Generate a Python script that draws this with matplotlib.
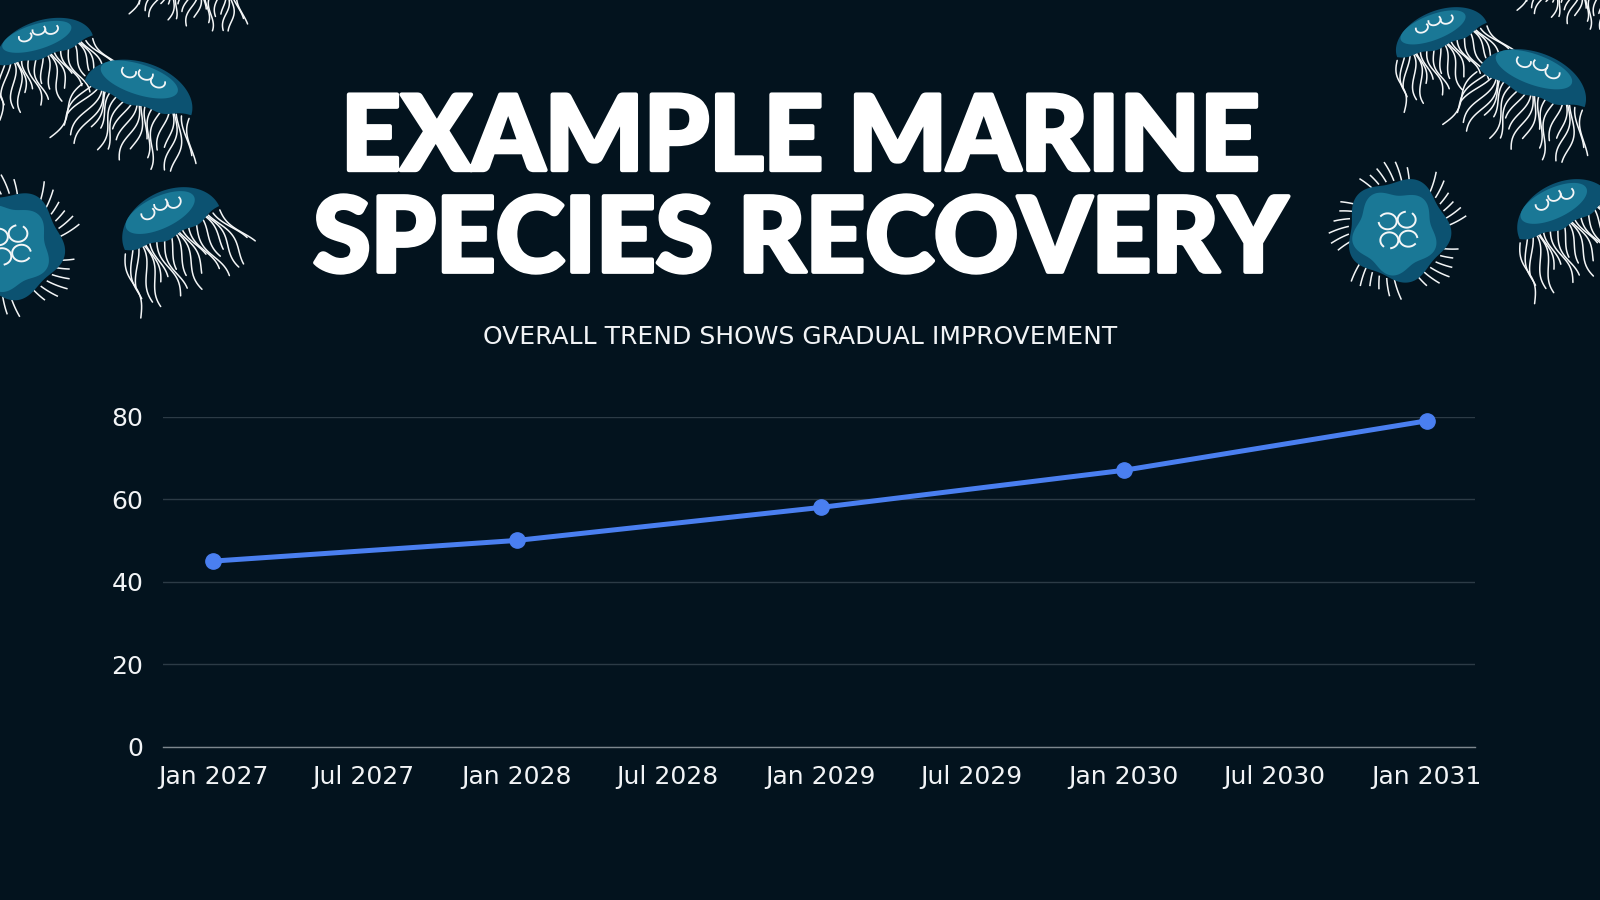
import numpy as np
import matplotlib
matplotlib.use("Agg")
import matplotlib.pyplot as plt
from matplotlib.patches import Polygon
import matplotlib.patheffects as pe
import datetime as dt

# ---------------- data ----------------
dates = ["2027-01-01", "2028-01-01", "2029-01-01", "2030-01-01", "2031-01-01"]
values = [45, 50, 58, 67, 79]
y_ticks = [0, 20, 40, 60, 80]
x_ticks = ["2027-01-01", "2027-07-01", "2028-01-01", "2028-07-01", "2029-01-01",
           "2029-07-01", "2030-01-01", "2030-07-01", "2031-01-01"]
x_tick_labels = ["Jan 2027", "Jul 2027", "Jan 2028", "Jul 2028", "Jan 2029",
                 "Jul 2029", "Jan 2030", "Jul 2030", "Jan 2031"]
title_lines = ["EXAMPLE MARINE", "SPECIES RECOVERY"]
subtitle = "OVERALL TREND SHOWS GRADUAL IMPROVEMENT"

# ---------------- style ----------------
BG = "#03131e"
LINE = "#4a7ff0"
GRID = "#2c3b46"
BASE = "#7d878e"
TXT = "#f2f4f6"
DARK = "#0c5271"
LIGHT = "#1a7896"
WHITE = "#f4f6f7"

fig = plt.figure(figsize=(16, 9), dpi=100, facecolor=BG)

# ---------------- decorative jellyfish ----------------
deco = fig.add_axes([0, 0, 1, 1], zorder=0)
deco.set_xlim(0, 1600)
deco.set_ylim(900, 0)
deco.axis("off")


def xf(cx, cy, phi, u, v):
    c, s = np.cos(np.radians(phi)), np.sin(np.radians(phi))
    u = np.asarray(u, float)
    v = np.asarray(v, float)
    return cx + u * c - v * s, cy - (u * s + v * c)


def side_jelly(ax, cx, cy, a, b, phi, ntent=22):
    # tentacles (behind bell)
    for i in range(ntent):
        f = -0.98 + 1.96 * i / (ntent - 1)
        u0 = f * a
        L = b * (1.4 + 0.4 * np.cos(i * 1.7))
        vv = np.linspace(-0.1 * b, -L, 25)
        uu = u0 * (1 + 0.3 * (-(vv) / L)) + 0.08 * a * np.sin((vv / b) * 3.5 + i * 0.9)
        X, Y = xf(cx, cy, phi, uu, vv)
        ax.plot(X, Y, color=WHITE, lw=1.1, solid_capstyle="round", zorder=2)
    # bell outer
    t = np.linspace(0, np.pi, 60)
    top_u, top_v = a * np.cos(t), b * np.sin(t)
    s = np.linspace(-a, a, 40)
    bot_v = -0.22 * b * (1 - (s / a) ** 2) + 0.04 * b * np.sin(s / a * np.pi * 3)
    X, Y = xf(cx, cy, phi, np.r_[top_u, s], np.r_[top_v, bot_v])
    ax.add_patch(Polygon(np.c_[X, Y], closed=True, fc=DARK, ec="none", zorder=3))
    # inner lighter region
    ti = np.linspace(0, 2 * np.pi, 80)
    iu = -0.08 * a + 0.72 * a * np.cos(ti)
    iv = 0.5 * b + 0.42 * b * np.sin(ti)
    X, Y = xf(cx, cy, phi, iu, iv)
    ax.add_patch(Polygon(np.c_[X, Y], closed=True, fc=LIGHT, ec="none", zorder=4))
    # white arcs
    for k, (du, dv) in enumerate([(-0.3, 0.62), (0.0, 0.7), (0.25, 0.6)]):
        ta = np.linspace(np.pi * 0.9, np.pi * 2.1, 30)
        X, Y = xf(cx, cy, phi, du * a + 0.13 * a * np.cos(ta),
                  dv * b + 0.13 * b * np.sin(ta) * 1.2)
        ax.plot(X, Y, color=WHITE, lw=1.3, zorder=5)


def top_jelly(ax, cx, cy, R, phi):
    th = np.linspace(0, 2 * np.pi, 240)
    # tentacles radiating, in small clusters
    for k in range(40):
        if k % 8 in (6, 7):
            continue
        ang = np.radians(phi + k * 9)
        rr = np.linspace(1.0 * R, 1.3 * R + 0.08 * R * np.cos(k * 1.3), 12)
        aa = ang + 0.3 * (rr - R) / R
        ax.plot(cx + rr * np.cos(aa), cy - rr * np.sin(aa), color=WHITE, lw=1.1, zorder=2)
    r = R * (1 + 0.07 * np.cos(5 * (th + np.radians(phi))))
    ax.add_patch(Polygon(np.c_[cx + r * np.cos(th), cy - r * np.sin(th)], closed=True,
                         fc=DARK, ec="none", zorder=3))
    r2 = 0.8 * R * (1 + 0.09 * np.cos(5 * (th + np.radians(phi) + 0.3)))
    ax.add_patch(Polygon(np.c_[cx - 0.06 * R + r2 * np.cos(th), cy + 0.04 * R - r2 * np.sin(th)],
                         closed=True, fc=LIGHT, ec="none", zorder=4))
    for k in range(4):
        ang = np.radians(phi + 45 + 90 * k)
        px, py = cx + 0.27 * R * np.cos(ang), cy - 0.27 * R * np.sin(ang)
        ta = np.linspace(0, 2 * np.pi * 0.85, 30) + ang + 0.9
        ax.plot(px + 0.18 * R * np.cos(ta), py - 0.16 * R * np.sin(ta), color=WHITE, lw=1.4, zorder=5)


# left group
side_jelly(deco, 45, 50, 50, 30, 17)
side_jelly(deco, 138, 98, 56, 36, -18)
side_jelly(deco, 195, -20, 45, 26, -12)
top_jelly(deco, 10, 245, 52, 10)
side_jelly(deco, 172, 228, 52, 38, 25)
# right group
side_jelly(deco, 1442, 40, 48, 30, 21)
side_jelly(deco, 1532, 88, 56, 36, -20)
top_jelly(deco, 1398, 230, 50, 5)
side_jelly(deco, 1565, 218, 50, 36, 25)
side_jelly(deco, 1578, -20, 40, 25, -15)

# ---------------- titles ----------------
for i, line in enumerate(title_lines):
    fig.text(0.5, [0.811, 0.698][i], line, ha="center", va="baseline",
             color="white", fontsize=75, fontweight="black",
             family=["Lato", "DejaVu Sans"],
             path_effects=[pe.withStroke(linewidth=3, foreground="white")])
fig.text(0.5, 0.6178, subtitle, ha="center", va="baseline", color=TXT,
         fontsize=18, family=["DejaVu Sans"])

# ---------------- chart ----------------
ax = fig.add_axes([0.1017, 0.1703, 0.8202, 0.3667], zorder=2)
ax.set_facecolor("none")
xd = [dt.datetime.fromisoformat(d) for d in dates]
ax.plot(xd, values, color=LINE, lw=3.6, marker="o", ms=11, clip_on=False, zorder=3)
ax.set_xlim(dt.datetime(2026, 11, 1), dt.datetime(2031, 2, 28))
ax.set_ylim(0, 80)
ax.set_yticks(y_ticks)
ax.set_yticklabels([str(v) for v in y_ticks])
ax.set_xticks([dt.datetime.fromisoformat(d) for d in x_ticks])
ax.set_xticklabels(x_tick_labels)
ax.grid(axis="y", color=GRID, lw=1)
ax.grid(axis="x", visible=False)
for sp in ["top", "right", "left"]:
    ax.spines[sp].set_visible(False)
ax.spines["bottom"].set_color(BASE)
ax.spines["bottom"].set_linewidth(1)
ax.tick_params(axis="both", length=0, colors=TXT, labelsize=18)
ax.tick_params(axis="y", pad=14)
ax.tick_params(axis="x", pad=13)
for lab in ax.get_xticklabels() + ax.get_yticklabels():
    lab.set_family(["DejaVu Sans"])

fig.savefig("out.png", dpi=100, facecolor=BG)
